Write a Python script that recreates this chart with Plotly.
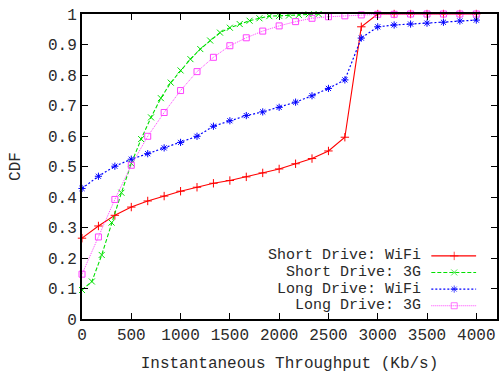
import plotly.graph_objects as go

# ---- data ----
x_bins = [i * 4000 / 24 for i in range(25)]
x_green = [i * 100 for i in range(25)]

short_wifi = [0.265, 0.305, 0.34, 0.367, 0.387, 0.403, 0.419, 0.432, 0.445, 0.454,
              0.466, 0.479, 0.492, 0.509, 0.526, 0.551, 0.596, 0.958, 1, 1, 1, 1, 1, 1, 1]
short_3g = [0.095, 0.123, 0.21, 0.316, 0.414, 0.51, 0.59, 0.661, 0.724, 0.775, 0.815,
            0.852, 0.885, 0.913, 0.939, 0.955, 0.967, 0.978, 0.986, 0.993, 0.994, 0.995,
            0.997, 0.999, 1.0]
long_wifi = [0.428, 0.468, 0.501, 0.524, 0.542, 0.561, 0.579, 0.599, 0.632, 0.65, 0.667,
             0.679, 0.694, 0.711, 0.732, 0.756, 0.784, 0.921, 0.958, 0.964, 0.967, 0.97,
             0.973, 0.977, 0.98]
long_3g = [0.147, 0.269, 0.392, 0.504, 0.599, 0.677, 0.749, 0.811, 0.858, 0.896, 0.922,
           0.944, 0.961, 0.975, 0.986, 0.991, 0.994, 0.997, 0.999, 0.999, 1, 1, 1, 1, 1]

names = ["Short Drive: WiFi", "Short Drive: 3G", "Long Drive: WiFi", "Long Drive: 3G"]
xticks = [0, 500, 1000, 1500, 2000, 2500, 3000, 3500, 4000]
yticks = [0, 0.1, 0.2, 0.3, 0.4, 0.5, 0.6, 0.7, 0.8, 0.9, 1]
yticklabels = ["0", "0.1", "0.2", "0.3", "0.4", "0.5", "0.6", "0.7", "0.8", "0.9", "1"]

FONT = "Liberation Mono"
TXT = "#2a2a2a"

styles = [
    dict(color="#ff0000", dash="solid", symbol="cross-thin-open", size=6, width=1.1),
    dict(color="#00e000", dash="4px,2px", symbol="x-thin-open", size=6, width=1.1),
    dict(color="#0000ff", dash="2px,2px", symbol="asterisk-open", size=6, width=1.2),
    dict(color="#ff40ff", dash="1px,1px", symbol="square-open", size=6, width=1.0),
]
series = [(x_bins, short_wifi), (x_green, short_3g), (x_bins, long_wifi), (x_bins, long_3g)]

fig = go.Figure()
for (xs, ys), st, nm in zip(series, styles, names):
    fig.add_trace(go.Scatter(
        x=xs, y=ys, mode="lines+markers", name=nm, cliponaxis=False,
        line=dict(color=st["color"], dash=st["dash"], width=st["width"]),
        marker=dict(symbol=st["symbol"], size=st["size"], color=st["color"],
                    line=dict(color=st["color"], width=1.0)),
        showlegend=False))

# ---- custom legend (text right, sample on the right), in pixel-like overlay axes ----
leg_rows = [256.7, 273.3, 290.0, 306.7]
for st, nm, yy in zip(styles, names, leg_rows):
    fig.add_trace(go.Scatter(
        x=[433, 456, 478], y=[yy, yy, yy], xaxis="x2", yaxis="y2",
        mode="lines+markers", cliponaxis=False, showlegend=False, hoverinfo="skip",
        line=dict(color=st["color"], dash=st["dash"], width=st["width"]),
        marker=dict(symbol=st["symbol"], size=[0, st["size"], 0], color=st["color"],
                    line=dict(color=st["color"], width=1.0))))
    fig.add_annotation(x=424, y=yy, xref="x2", yref="y2", text=nm, showarrow=False,
                       xanchor="right", yanchor="middle", borderpad=0,
                       font=dict(family=FONT, size=15, color=TXT))

axis_common = dict(showgrid=False, zeroline=False, showline=True, linecolor="#000",
                   linewidth=2, mirror="allticks", ticks="inside", ticklen=6,
                   tickcolor="#000", tickwidth=1,
                   tickfont=dict(family=FONT, size=16, color=TXT))

fig.update_layout(
    width=503, height=373,
    margin=dict(l=82, r=4, t=14, b=53),
    paper_bgcolor="white", plot_bgcolor="white",
    xaxis=dict(range=[0, 4210], tickvals=xticks, ticktext=[str(v) for v in xticks],
               title=dict(text="Instantaneous Throughput (Kb/s)", standoff=13,
                          font=dict(family=FONT, size=16, color=TXT)),
               **axis_common),
    yaxis=dict(range=[0, 1], tickvals=yticks, ticktext=yticklabels,
               title=dict(text="CDF", standoff=23,
                          font=dict(family=FONT, size=16, color=TXT)),
               **axis_common),
    xaxis2=dict(overlaying="x", range=[82, 499], visible=False, fixedrange=True),
    yaxis2=dict(overlaying="y", range=[320, 14], visible=False, fixedrange=True),
)

fig.write_html("out.html", config={"displayModeBar": False},
               post_script="document.body.style.margin='0';document.body.style.overflow='hidden';")
